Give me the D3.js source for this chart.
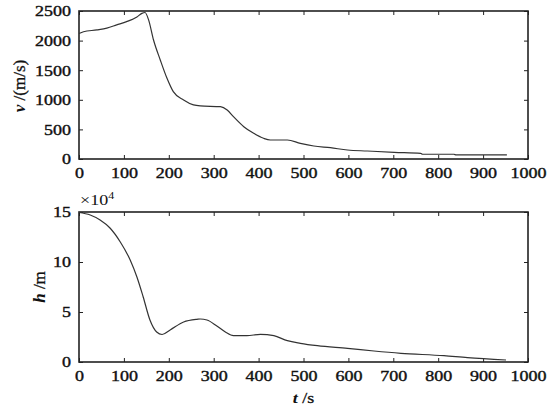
<!DOCTYPE html>
<html>
<head>
<meta charset="utf-8">
<script src="https://cdn.jsdelivr.net/npm/d3@7"></script>
<style>
  body { margin: 0; background: #fff; }
</style>
</head>
<body>
<div id="viz"></div>
<script>
// velocity curve (t in s, v in m/s)
const tV = [0, 10, 40, 62, 84, 106, 129, 140, 147, 155, 166, 181, 196, 210, 233, 255, 270, 315, 330, 344, 367, 389, 411, 426, 464, 493, 523, 560, 598, 642, 702, 761, 765, 835, 840, 953]
const vVals = [2120, 2150, 2180, 2210, 2265, 2320, 2400, 2460, 2475, 2350, 2010, 1673, 1363, 1137, 997, 913, 896, 884, 828, 715, 546, 434, 350, 321, 321, 265, 220, 191, 152, 135, 113, 96, 80, 80, 68, 68]

// altitude curve (t in s, h in 10^4 m)
const tH = [0, 25, 47, 69, 92, 114, 129, 143, 158, 173, 185, 203, 233, 263, 270, 285, 307, 326, 344, 374, 404, 434, 464, 493, 531, 598, 657, 717, 813, 865, 951]
const hVals = [14.95, 14.7, 14.2, 13.4, 12.0, 10.2, 8.5, 6.5, 4.2, 3.0, 2.75, 3.2, 4.0, 4.27, 4.3, 4.2, 3.6, 3.0, 2.63, 2.63, 2.77, 2.63, 2.13, 1.87, 1.63, 1.37, 1.1, 0.87, 0.63, 0.43, 0.2]

const xTicks = [0, 100, 200, 300, 400, 500, 600, 700, 800, 900, 1000]
const vTicks = [0, 500, 1000, 1500, 2000, 2500]
const hTicks = [0, 5, 10, 15]

const width = 547
const height = 408
const sx = 1.2   // the picture is a little wide, so the text is stretched
const serif = '"Liberation Serif", "Times New Roman", serif'

const svg = d3.select("#viz").append("svg")
    .attr("width", width)
    .attr("height", height)

const x = d3.scaleLinear().domain([0, 1000]).range([79, 528])

function panel(top, bottom, yDomain, yTicks, ts, vals) {
    const y = d3.scaleLinear().domain(yDomain).range([bottom, top])
    const g = svg.append("g")

    // bottom axis with labels
    g.append("g").attr("transform", `translate(0,${bottom})`)
        .call(d3.axisBottom(x).tickValues(xTicks).tickFormat(d3.format("d"))
            .tickSizeInner(-4).tickSizeOuter(0).tickPadding(8.5))
    // top axis, ticks only
    g.append("g").attr("transform", `translate(0,${top})`)
        .call(d3.axisTop(x).tickValues(xTicks).tickSizeInner(-4).tickSizeOuter(0).tickFormat(""))
    // left axis with labels
    g.append("g").attr("transform", "translate(79,0)")
        .call(d3.axisLeft(y).tickValues(yTicks).tickFormat(d3.format("d"))
            .tickSizeInner(-4).tickSizeOuter(0).tickPadding(6.7))
    // right axis, ticks only
    g.append("g").attr("transform", "translate(528,0)")
        .call(d3.axisRight(y).tickValues(yTicks).tickSizeInner(-4).tickSizeOuter(0).tickFormat(""))

    g.selectAll(".domain").remove()
    g.selectAll(".tick line").attr("stroke", "#222").attr("stroke-width", 1)
    g.selectAll(".tick text")
        .style("font-family", serif)
        .style("font-size", "15px")
        .attr("fill", "#111")
        .attr("stroke", "#111").attr("stroke-width", 0.4)
        .attr("transform", `scale(${sx},1)`)

    // box
    g.append("rect")
        .attr("x", 79).attr("y", top)
        .attr("width", 528 - 79).attr("height", bottom - top)
        .attr("fill", "none").attr("stroke", "#222").attr("stroke-width", 1.6)

    const line = d3.line()
        .x((d, i) => x(ts[i]))
        .y(d => y(d))
        .curve(d3.curveMonotoneX)

    g.append("path")
        .datum(vals)
        .attr("d", line)
        .attr("fill", "none")
        .attr("stroke", "#333")
        .attr("stroke-width", 1.2)
    return y
}

panel(11, 159, [0, 2500], vTicks, tV, vVals)
panel(212, 362, [0, 15], hTicks, tH, hVals)

function title(tr, size, ital, rest) {
    const t = svg.append("text")
        .attr("transform", tr)
        .attr("text-anchor", "middle")
        .style("font-family", serif)
        .style("font-size", size + "px")
        .attr("fill", "#111")
    t.append("tspan").text(ital).style("font-style", "italic").style("font-weight", "bold")
    t.append("tspan").text(rest).attr("stroke", "#111").attr("stroke-width", 0.3)
    return t
}

// axis titles
title("translate(25,86) rotate(-90)", 17, "v", " /(m/s)")
title("translate(45,287) rotate(-90)", 17, "h", " /m")
title(`translate(303.5,403) scale(${sx},1)`, 15, "t", " /s")

const exp = svg.append("text")
    .attr("transform", `translate(80,205) scale(${sx},1)`)
    .style("font-family", serif)
    .style("font-size", "15px")
    .attr("fill", "#111")
exp.append("tspan").text("\u00d710")
exp.append("tspan").text("4").attr("dy", -6).style("font-size", "10px")
</script>
</body>
</html>
